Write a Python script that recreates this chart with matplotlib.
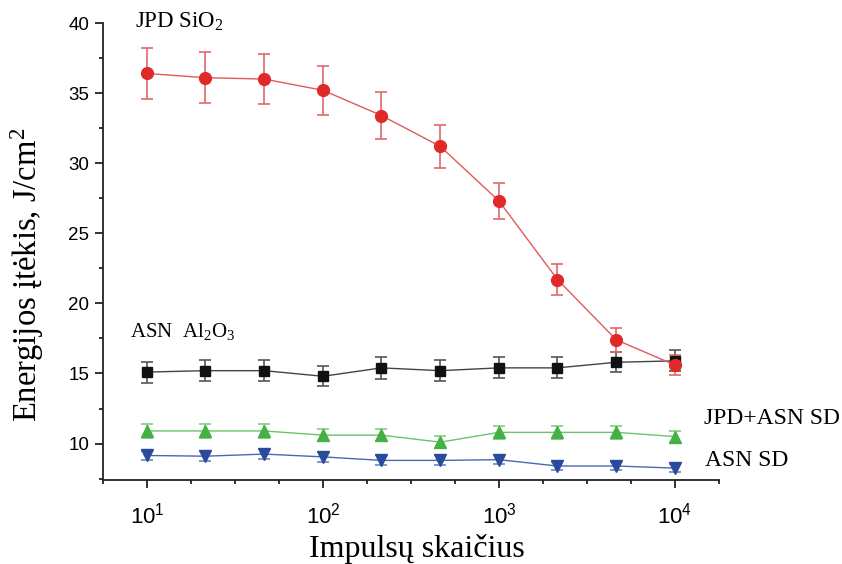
import numpy as np
import matplotlib
matplotlib.use("Agg")
import matplotlib.pyplot as plt
from matplotlib.ticker import FixedLocator, LogFormatterSciNotation, MultipleLocator, NullFormatter

plt.rcParams["mathtext.fontset"] = "custom"
plt.rcParams["mathtext.rm"] = "Liberation Serif"
plt.rcParams["mathtext.it"] = "Liberation Serif:italic"

# Number of pulses
pulses = [10, 21.5, 46.4, 100, 215, 464, 1000, 2150, 4640, 10000]

# Damage threshold fluence, J/cm^2, with error bars
jpd_sio2 = [36.4, 36.1, 36.0, 35.2, 33.4, 31.2, 27.3, 21.7, 17.4, 15.6]
jpd_sio2_err = [1.8, 1.8, 1.8, 1.75, 1.7, 1.55, 1.3, 1.1, 0.85, 0.7]

asn_al2o3 = [15.1, 15.2, 15.2, 14.8, 15.4, 15.2, 15.4, 15.4, 15.8, 15.9]
asn_al2o3_err = [0.75, 0.75, 0.75, 0.7, 0.76, 0.75, 0.75, 0.75, 0.7, 0.75]

jpd_asn_sd = [10.9, 10.9, 10.9, 10.6, 10.6, 10.1, 10.8, 10.8, 10.8, 10.5]
jpd_asn_sd_err = [0.5, 0.5, 0.5, 0.45, 0.45, 0.45, 0.45, 0.45, 0.45, 0.4]

asn_sd = [9.15, 9.1, 9.25, 9.05, 8.8, 8.8, 8.85, 8.4, 8.4, 8.25]
asn_sd_err = [0.35, 0.35, 0.35, 0.35, 0.35, 0.35, 0.3, 0.3, 0.3, 0.3]

fig = plt.figure(figsize=(8.42, 5.64), dpi=100)
ax = fig.add_axes([0.1223, 0.1489, 0.7316, 0.8103])

series = [
    (jpd_sio2, jpd_sio2_err, "o", "#e02a2a", "#e05a5a", "#e06868", 8.5),
    (asn_al2o3, asn_al2o3_err, "s", "#111111", "#444444", "#555555", 7.5),
    (jpd_asn_sd, jpd_asn_sd_err, "^", "#45b043", "#6cc36a", "#7fcf7d", 8.5),
    (asn_sd, asn_sd_err, "v", "#2a4b9c", "#4a68b0", "#6a86c4", 8.5),
]
for vals, errs, mk, mcol, lcol, ecol, ms in series[::-1]:
    ax.errorbar(pulses, vals, yerr=errs, fmt="-", color=lcol, lw=1.0,
                ecolor=ecol, elinewidth=1.2, capsize=4.5, capthick=1.2,
                marker=mk, markersize=ms, markerfacecolor=mcol,
                markeredgecolor=mcol, zorder=3)

ax.set_xscale("log")
ax.set_xlim(10 ** 0.75, 10 ** 4.25)
ax.set_ylim(7.4, 40)

ax.xaxis.set_major_locator(FixedLocator([10, 100, 1000, 10000]))
ax.xaxis.set_major_formatter(LogFormatterSciNotation())
ax.xaxis.set_minor_locator(FixedLocator(
    [10 ** (e + f) for e in range(0, 5) for f in (0.25, 0.5, 0.75)]))
ax.xaxis.set_minor_formatter(NullFormatter())
ax.yaxis.set_major_locator(MultipleLocator(5))
ax.yaxis.set_minor_locator(MultipleLocator(2.5))

for side in ("top", "right"):
    ax.spines[side].set_visible(False)
for side in ("left", "bottom"):
    ax.spines[side].set_linewidth(1.3)
    ax.spines[side].set_color("#222222")

ax.tick_params(axis="both", which="major", direction="out", length=6, width=1.3, color="#222222")
ax.tick_params(axis="both", which="minor", direction="out", length=3, width=1.3, color="#222222")
ax.tick_params(axis="y", labelsize=13.5, pad=4)
ax.tick_params(axis="x", labelsize=16, pad=10)
for lab in ax.get_xticklabels() + ax.get_yticklabels():
    lab.set_family("Liberation Sans")

serif = "Liberation Serif"
ax.set_xlabel("Impulsų skaičius", fontsize=23, family=serif)
ax.xaxis.set_label_coords(0.51, -0.118)
ax.set_ylabel("Energijos įtėkis, J/cm$^{\\mathdefault{2}}$", fontsize=23.5, family=serif)
ax.yaxis.set_label_coords(-0.0925, 0.449)

fig.text(135 / 842, 1 - 22 / 564, "JPD SiO$_{\\mathdefault{2}}$", fontsize=16.5, family=serif, va="center")
fig.text(130 / 842, 1 - 332 / 564, "ASN  Al$_{\\mathdefault{2}}$O$_{\\mathdefault{3}}$", fontsize=15, family=serif, va="center")
fig.text(704 / 842, 1 - 418 / 564, "JPD+ASN SD", fontsize=17, family=serif, va="center")
fig.text(705 / 842, 1 - 460 / 564, "ASN SD", fontsize=17, family=serif, va="center")

fig.savefig("out.png", dpi=100, facecolor="white")
